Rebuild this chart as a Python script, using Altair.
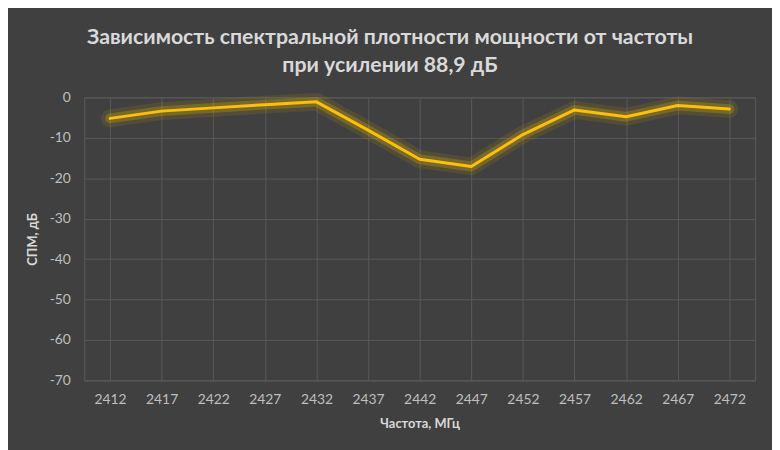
import altair as alt
import pandas as pd

freqs = ["2412", "2417", "2422", "2427", "2432", "2437", "2442",
         "2447", "2452", "2457", "2462", "2467", "2472"]
psd = [-5.2, -3.4, -2.6, -1.8, -1.1, -8.1, -15.3,
       -17.1, -9.2, -3.1, -4.8, -2.0, -2.9]

df = pd.DataFrame({"freq": freqs, "psd": psd})

FONT = "Lato"
x = alt.X("freq:O", sort=freqs,
          scale=alt.Scale(paddingInner=0, paddingOuter=0),
          axis=alt.Axis(title="Частота, МГц", labelAngle=0, bandPosition=0,
                        grid=True, gridColor="#595959", ticks=False, domain=False,
                        labelColor="#bfbfbf", labelFont=FONT, labelFontSize=14,
                        labelPadding=12, titleColor="#d9d9d9", titleFont=FONT,
                        titleFontSize=13, titleFontWeight="bold", titlePadding=12))
y = alt.Y("psd:Q", scale=alt.Scale(domain=[-70, 0], nice=False),
          axis=alt.Axis(title="СПМ, дБ", values=list(range(-70, 1, 10)),
                        labelExpr="replace(datum.label, '\u2212', '-')",
                        grid=True, gridColor="#595959", ticks=False, domain=False,
                        labelColor="#bfbfbf", labelFont=FONT, labelFontSize=14,
                        labelPadding=14, titleColor="#d9d9d9", titleFont=FONT,
                        titleFontSize=13, titleFontWeight="bold", titlePadding=10))

base = alt.Chart(df).encode(x=x, y=y)
glow1 = base.mark_line(color="#d4b000", strokeWidth=18, opacity=0.12, strokeJoin="round", strokeCap="round")
glow2 = base.mark_line(color="#e0bb00", strokeWidth=10, opacity=0.25, strokeJoin="round", strokeCap="round")
line = base.mark_line(color="#FFC000", strokeWidth=3, strokeJoin="round", strokeCap="round")

chart = alt.layer(glow1, glow2, line).properties(
    width=678, height=286,
    title=alt.TitleParams(
        text=["Зависимость спектральной плотности мощности от частоты",
              "при усилении 88,9 дБ"],
        color="#d9d9d9", font=FONT, fontSize=21.5, fontWeight="bold",
        anchor="middle", dx=-30, offset=14, lineHeight=28),
    background="#404040",
    padding={"left": 77, "top": 88, "right": 17, "bottom": 68},
    autosize=alt.AutoSizeParams(type="none"),
).configure_view(stroke="#595959", strokeWidth=1)

chart.save("out.html", embed_options={"renderer": "svg", "actions": False})
